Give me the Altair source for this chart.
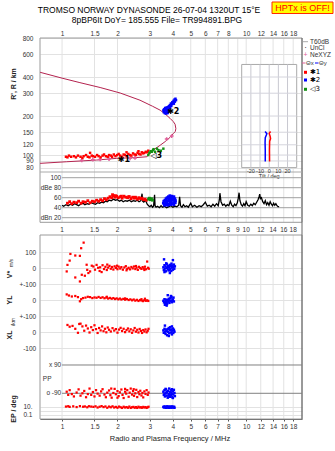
import altair as alt
import pandas as pd

FONT = "Liberation Sans"
W, H = 262, 381

# ---------------- data ----------------
F_DOMAIN = [0.759, 20.1]
FREQ_TICKS = [1, 1.5, 2, 3, 4, 5, 6, 7, 8, 10, 12, 14, 16, 18]
FREQ_TICKS_MID = [1, 1.5, 2, 3, 4, 5, 6, 7, 8, 9, 10, 12, 14, 16, 18]
FREQ_GRID = [1, 1.5, 2, 3, 4, 5, 6, 7, 8, 9, 10, 12, 14, 16, 18]

HEIGHT_TICKS = [80, 90, 100, 120, 150, 200, 300, 400, 600, 800]
DB_TICKS = [100, 80, 60, 40, 20]
DB_LABELS = ["100", "dBe 80", "60", "40", "dBn 20"]
PP_TICKS = [90, -90]
PP_LABELS = ["x 90", "o -90"]
TILT_TICKS = [-20, -10, 0, 10, 20]
INSET_TILT = [-30, 30]
INSET_HEIGHT = [80, 500]
INSET_GRID_H = [90, 100, 120, 150, 200, 300, 400]

# true-height / virtual-height profile (ordered path: freq MHz, height km)
PROFILE = [(0.76, 435), (1.0, 392), (1.25, 362), (1.61, 332), (2.07, 301), (2.65, 265),
           (3.1, 238), (3.41, 222), (3.65, 206), (3.86, 192), (4.02, 181), (4.11, 173),
           (4.15, 160), (4.12, 152), (4.03, 147), (3.86, 137), (3.63, 127), (3.41, 119),
           (3.12, 109), (2.95, 100), (2.89, 97), (2.5, 95.5), (1.98, 94.3), (1.54, 91.5),
           (1.06, 88.8), (0.76, 86.3)]
NE_XYZ = [(1.28, 91.0), (1.47, 92.0), (1.61, 92.5), (1.8, 93.2), (2.34, 94.3), (2.49, 95.0),
          (3.7, 133), (3.94, 140)]

ECHO1_H = [(1.05, 97), (1.07, 96), (1.09, 99), (1.12, 97), (1.16, 98), (1.19, 96), (1.22, 99),
           (1.26, 97), (1.29, 95), (1.31, 98), (1.35, 100), (1.38, 97), (1.41, 96), (1.42, 104),
           (1.45, 99), (1.47, 98), (1.51, 97), (1.55, 100), (1.58, 98), (1.62, 96), (1.66, 99),
           (1.69, 101), (1.73, 98), (1.77, 97), (1.8, 100), (1.84, 99), (1.87, 97), (1.91, 101),
           (1.95, 98), (1.99, 100), (2.03, 102), (2.07, 99), (2.12, 97), (2.16, 101), (2.2, 100),
           (2.24, 105), (2.25, 98), (2.29, 102), (2.34, 100), (2.38, 99), (2.43, 103), (2.48, 101),
           (2.52, 100), (2.57, 104), (2.6, 107), (2.62, 102), (2.67, 101), (2.71, 105), (2.76, 103),
           (2.8, 104), (2.85, 106), (2.9, 105), (2.94, 108)]
ECHO2_H = [(3.55, 221), (3.57, 214), (3.6, 226), (3.6, 217), (3.63, 230), (3.65, 222), (3.67, 212),
           (3.7, 228), (3.72, 219), (3.74, 234), (3.76, 224), (3.78, 216), (3.8, 238), (3.82, 229),
           (3.85, 243), (3.87, 233), (3.9, 250), (3.92, 240), (3.95, 247), (3.97, 256), (4.0, 252),
           (4.03, 262), (4.05, 249), (4.08, 268), (4.1, 258), (4.13, 272), (4.16, 265), (3.68, 209),
           (3.75, 211), (3.83, 220), (3.58, 225), (3.62, 210), (3.7, 216), (3.66, 232)]
ECHO3_H = [(2.94, 100), (2.98, 104), (3.03, 107), (3.07, 106), (3.12, 109), (3.14, 111),
           (3.2, 106), (3.28, 112), (3.34, 109), (3.44, 108), (3.55, 112)]

DB_TRACE = [(1.0, 45), (1.02, 43), (1.05, 46), (1.08, 44), (1.11, 47), (1.14, 45), (1.17, 48),
            (1.2, 46), (1.23, 44), (1.26, 47), (1.3, 49), (1.33, 46), (1.37, 48), (1.4, 47),
            (1.44, 50), (1.48, 48), (1.52, 47), (1.56, 50), (1.6, 49), (1.64, 51), (1.68, 50),
            (1.72, 53), (1.76, 52), (1.8, 55), (1.85, 54), (1.9, 57), (1.95, 55), (2.0, 56),
            (2.05, 53), (2.1, 55), (2.15, 52), (2.2, 54), (2.26, 53), (2.32, 55), (2.38, 52),
            (2.44, 54), (2.5, 53), (2.56, 55), (2.62, 52), (2.68, 54), (2.72, 68), (2.74, 53),
            (2.78, 51), (2.84, 55), (2.9, 47), (2.95, 44), (3.0, 42), (3.05, 45), (3.1, 41),
            (3.14, 43), (3.18, 66), (3.2, 44), (3.24, 41), (3.3, 43), (3.38, 40), (3.45, 44),
            (3.52, 41), (3.6, 43), (3.7, 40), (3.8, 42), (3.9, 44), (4.0, 41), (4.1, 43),
            (4.2, 42), (4.3, 45), (4.35, 62), (4.4, 44), (4.48, 41), (4.56, 46), (4.65, 42),
            (4.75, 44), (4.85, 41), (5.0, 49), (5.1, 42), (5.25, 45), (5.4, 41), (5.55, 44),
            (5.7, 42), (5.85, 46), (6.0, 51), (6.15, 43), (6.3, 45), (6.45, 42), (6.6, 47),
            (6.75, 43), (6.9, 48), (7.05, 44), (7.15, 56), (7.2, 69), (7.3, 52), (7.45, 45),
            (7.6, 47), (7.75, 43), (7.9, 46), (8.05, 44), (8.2, 53), (8.35, 45), (8.5, 42),
            (8.65, 47), (8.8, 44), (8.95, 50), (9.05, 58), (9.15, 70), (9.25, 54), (9.4, 46),
            (9.55, 43), (9.7, 48), (9.85, 44), (10.0, 52), (10.2, 45), (10.4, 43), (10.6, 47),
            (10.8, 44), (11.0, 49), (11.2, 46), (11.4, 51), (11.6, 56), (11.75, 62), (11.85, 67),
            (11.95, 58), (12.1, 60), (12.3, 52), (12.5, 48), (12.7, 54), (12.9, 46), (13.1, 50),
            (13.3, 45), (13.5, 52), (13.7, 47), (13.9, 44), (14.1, 49), (14.3, 45), (14.5, 48),
            (14.7, 44), (14.9, 42), (15.1, 42)]
ECHO1_DB = [(1.07, 49), (1.1, 52), (1.13, 48), (1.16, 51), (1.2, 50), (1.23, 53), (1.27, 49),
            (1.3, 52), (1.34, 51), (1.38, 54), (1.42, 50), (1.46, 53), (1.5, 52), (1.54, 55),
            (1.58, 53), (1.62, 56), (1.66, 54), (1.7, 58), (1.74, 56), (1.78, 59), (1.82, 62),
            (1.86, 60), (1.9, 64), (1.94, 61), (1.98, 63), (2.02, 60), (2.07, 62), (2.12, 59),
            (2.17, 63), (2.22, 61), (2.27, 60), (2.32, 62), (2.37, 58), (2.42, 61), (2.47, 59),
            (2.52, 60), (2.57, 57), (2.62, 60), (2.67, 58), (2.72, 59), (2.77, 56), (2.82, 57),
            (2.87, 55), (1.88, 66), (1.95, 64), (2.1, 63), (2.3, 62), (2.5, 61)]
ECHO2_DB = [(3.55, 49), (3.57, 53), (3.6, 47), (3.62, 55), (3.65, 51), (3.67, 58), (3.7, 49),
            (3.72, 60), (3.75, 54), (3.78, 62), (3.8, 47), (3.83, 59), (3.85, 64), (3.88, 52),
            (3.9, 61), (3.93, 56), (3.95, 63), (3.98, 48), (4.0, 60), (4.03, 57), (4.05, 62),
            (4.08, 51), (4.1, 58), (4.13, 54), (3.6, 45), (3.68, 46), (3.75, 45), (3.82, 47),
            (3.9, 46), (3.97, 48), (4.05, 46), (4.12, 50), (3.7, 53), (3.8, 55), (3.88, 57),
            (3.95, 59), (4.02, 55), (3.85, 50), (3.92, 52)]
ECHO3_DB = [(2.95, 57), (2.98, 59), (3.02, 56), (3.06, 58), (3.1, 55)]

VSTAR_1 = [(1.07, 20), (1.06, -21), (1.1, 47), (1.11, 89), (1.18, 79), (1.18, -59), (1.25, 77),
           (1.25, -84), (1.27, 125), (1.31, 160), (1.28, -42), (1.33, -48), (1.36, 21), (1.37, -11),
           (1.39, -31), (1.42, -21), (1.45, 15), (1.48, 10), (1.51, -10), (1.54, 20), (1.57, 2),
           (1.61, 5), (1.64, -25), (1.66, 18), (1.69, -6), (1.72, 8), (1.75, -12), (1.78, 3),
           (1.81, 14), (1.84, -4), (1.87, 7), (1.9, -9), (1.93, 11), (1.96, 1), (2.0, -7),
           (2.03, 9), (2.07, -3), (2.1, 6), (2.14, -10), (2.18, 4), (2.22, 12), (2.26, -5),
           (2.3, 2), (2.34, -8), (2.38, 7), (2.42, -2), (2.46, 10), (2.5, -6), (2.54, 3),
           (2.58, -11), (2.62, 8), (2.66, 0), (2.7, -5), (2.74, 6), (2.78, -3), (2.82, 9),
           (2.86, -7), (2.9, 41), (2.93, 2), (2.96, -4), (1.6, -18), (1.76, 22), (1.99, 15),
           (2.24, -14), (2.52, 13), (2.8, -12)]
VSTAR_2 = [(3.55, 5), (3.57, -12), (3.6, 18), (3.62, -3), (3.65, 10), (3.67, -20), (3.7, 25),
           (3.72, 2), (3.75, -8), (3.77, 14), (3.8, -15), (3.82, 6), (3.85, 20), (3.87, -5),
           (3.9, 12), (3.92, -18), (3.95, 3), (3.97, 16), (4.0, -10), (4.02, 8), (4.05, 22),
           (4.07, -4), (4.1, 11), (3.58, 55), (3.85, -31), (4.0, 50), (3.68, 30), (3.93, 28),
           (3.6, -25)]
YL_1 = [(1.06, 35), (1.09, 28), (1.13, 22), (1.18, 25), (1.22, 18), (1.25, -8), (1.27, 5),
        (1.3, 12), (1.34, 15), (1.38, 20), (1.42, 18), (1.46, 12), (1.5, 16), (1.54, 14),
        (1.58, 19), (1.62, 13), (1.66, 17), (1.7, 11), (1.74, 15), (1.78, 9), (1.82, 13),
        (1.86, 8), (1.9, 12), (1.94, 6), (1.98, 10), (2.02, 4), (2.06, 9), (2.1, 3), (2.15, 7),
        (2.2, 2), (2.25, 6), (2.3, 0), (2.35, 4), (2.4, -2), (2.45, 3), (2.5, -4), (2.55, 1),
        (2.6, -6), (2.65, 0), (2.7, -3), (2.75, -7), (2.8, -1), (2.85, -5), (2.9, -2),
        (2.94, -6), (2.7, 5), (2.2, 10), (1.75, 20), (2.82, 8)]
YL_2 = [(3.55, -5), (3.58, -15), (3.6, 5), (3.63, -20), (3.65, -8), (3.68, 2), (3.7, -12),
        (3.72, -25), (3.75, 0), (3.78, -10), (3.8, 8), (3.83, -18), (3.85, -3), (3.88, 12),
        (3.9, -7), (3.93, 20), (3.95, -14), (3.98, 4), (4.0, -2), (4.03, 15), (4.05, -9),
        (3.62, -30), (3.75, 30), (3.9, 25), (3.7, -35)]
XL_1 = [(1.07, 44), (1.1, 33), (1.14, 38), (1.18, 20), (1.22, -5), (1.24, 50), (1.26, 52),
        (1.29, 35), (1.32, 8), (1.35, 40), (1.38, 22), (1.41, -3), (1.44, 30), (1.47, 12),
        (1.5, 42), (1.53, 18), (1.56, -6), (1.59, 25), (1.62, 10), (1.65, 35), (1.68, 5),
        (1.71, 20), (1.74, -2), (1.77, 28), (1.8, 14), (1.84, 3), (1.88, 24), (1.92, 9),
        (1.96, 18), (2.0, -4), (2.04, 15), (2.08, 26), (2.12, 6), (2.16, 20), (2.2, -1),
        (2.24, 12), (2.28, 22), (2.32, 4), (2.36, 17), (2.4, -5), (2.44, 10), (2.48, 25),
        (2.52, 2), (2.56, 14), (2.6, -3), (2.64, 19), (2.68, 7), (2.72, -6), (2.76, 12),
        (2.8, 3), (2.84, 16), (2.88, -2), (2.92, 8), (2.95, 20)]
XL_2 = [(3.55, 10), (3.57, -5), (3.6, 20), (3.62, 2), (3.65, -12), (3.67, 15), (3.7, 5),
        (3.72, -20), (3.75, 18), (3.77, 0), (3.8, 25), (3.82, -8), (3.85, 12), (3.87, 30),
        (3.9, -3), (3.92, 16), (3.95, -15), (3.97, 8), (4.0, 22), (4.02, -6), (4.05, 14),
        (4.08, 2), (3.62, 40), (3.8, -25), (3.95, 35)]
PP_1 = [(1.06, -80), (1.08, -100), (1.1, -70), (1.13, -95), (1.16, -110), (1.2, -85), (1.23, -65),
        (1.26, -105), (1.29, -90), (1.32, -75), (1.35, -115), (1.38, -95), (1.41, -60),
        (1.44, -100), (1.47, -82), (1.5, -110), (1.53, -70), (1.56, -92), (1.6, -105), (1.63, -78),
        (1.66, -64), (1.7, -98), (1.73, -115), (1.76, -86), (1.8, -72), (1.83, -102), (1.86, -118),
        (1.9, -88), (1.93, -62), (1.96, -96), (2.0, -76), (2.03, -108), (2.06, -84), (2.1, -66),
        (2.13, -100), (2.16, -120), (2.2, -80), (2.23, -92), (2.26, -70), (2.3, -112), (2.33, -86),
        (2.36, -60), (2.4, -98), (2.43, -76), (2.46, -106), (2.5, -90), (2.53, -68), (2.56, -114),
        (2.6, -82), (2.63, -96), (2.66, -74), (2.7, -104), (2.73, -88), (2.76, -116), (2.8, -78),
        (2.84, -94), (2.88, -70), (2.92, -100), (2.95, -85), (2.0, -118), (2.2, -62),
        (2.45, -64), (1.85, -60)]
PP_2 = [(3.55, -80), (3.57, -100), (3.6, -70), (3.62, -110), (3.65, -90), (3.67, -65),
        (3.7, -105), (3.72, -85), (3.75, -118), (3.77, -75), (3.8, -95), (3.82, -60),
        (3.85, -112), (3.87, -82), (3.9, -100), (3.92, -70), (3.95, -92), (3.97, -115),
        (4.0, -78), (4.02, -98), (4.05, -68), (4.08, -88), (4.1, -108), (3.6, -95), (3.7, -80),
        (3.8, -105), (3.9, -85), (4.0, -120), (3.65, -62), (3.95, -64)]
EP_1 = [(1.05, 12), (1.08, 15), (1.1, 10), (1.15, 14), (1.2, 9), (1.25, 16), (1.3, 11),
        (1.33, 13), (1.37, 8), (1.4, 15), (1.44, 12), (1.48, 10), (1.52, 14), (1.56, 7),
        (1.6, 11), (1.64, 16), (1.68, 9), (1.72, 13), (1.76, 6), (1.8, 12), (1.84, 8),
        (1.88, 14), (1.92, 7), (1.96, 10), (2.0, 6), (2.04, 12), (2.08, 8), (2.12, 5.5),
        (2.16, 11), (2.2, 7), (2.24, 9), (2.28, 6), (2.32, 12), (2.36, 5.5), (2.4, 8),
        (2.44, 10), (2.48, 6), (2.52, 9), (2.56, 5.5), (2.6, 11), (2.64, 7), (2.68, 8),
        (2.72, 6), (2.76, 10), (2.8, 7), (2.84, 9), (2.88, 5.5), (2.92, 8), (2.95, 11)]
EP_2 = [(3.55, 10), (3.58, 7), (3.6, 13), (3.63, 8), (3.65, 11), (3.68, 6), (3.7, 9),
        (3.73, 14), (3.75, 7), (3.78, 10), (3.8, 6), (3.83, 12), (3.85, 8), (3.88, 11),
        (3.9, 6.5), (3.93, 9), (3.95, 13), (3.98, 7), (4.0, 10), (4.03, 8), (4.06, 11), (4.08, 6)]

TILT_X = [(-4.3, 89), (-4.3, 110), (-4.5, 125), (-4.3, 136), (-2.5, 146), (-4.5, 152)]
TILT_O = [(0.4, 89), (0.3, 110), (0.5, 128), (1.5, 134), (1.0, 140), (0.0, 147), (1.5, 152)]

ECHO_LABELS = [("\u27311", 2.17, 92.3), ("\u27312", 4.02, 215), ("\u25c13", 3.25, 98)]

TITLE_1 = "TROMSO NORWAY   DYNASONDE 26-07-04 1320UT 15\u00b0E"
TITLE_2 = "8pBP6It DoY= 185.555 File= TR994891.BPG"
WARNING = "HPTx is OFF!"
X_TITLE = "Radio and Plasma Frequency / MHz"

# ---------------- layout (pixels inside the plot group) ----------------
PANELS = {
    "h": dict(type="log", domain=[74, 800], range=[134, 0]),
    "db": dict(type="linear", domain=[10.8, 111.4], range=[184.3, 134]),
    "v": dict(type="linear", domain=[-100, 208], range=[246, 197]),
    "yl": dict(type="linear", domain=[-100, 100], range=[278, 246]),
    "xl": dict(type="linear", domain=[-100, 100], range=[310, 278]),
    "pp": dict(type="linear", domain=[-139, 198], range=[363, 310]),
    "ep": dict(type="log", domain=[0.0084, 316], range=[381, 363]),
}
TOP_BLOCK = (0, 184.3)
LOW_BLOCK = (197, 381)

RED, BLUE, GREEN = "#ff0000", "#0000ff", "#129012"
PROFILE_COLOR = "#b4234f"
PINK = "#e0609a"
GRID = "#e2e2e2"
LABEL = "#333333"


def X(field="f", axis=None):
    return alt.X(f"{field}:Q", scale=alt.Scale(type="log", domain=F_DOMAIN, range=[0, W], nice=False), axis=axis)


def Y(field, panel, axis=None):
    p = PANELS[panel]
    kw = dict(type=p["type"], domain=p["domain"], range=p["range"], nice=False)
    if p["type"] == "linear":
        kw["zero"] = False
    return alt.Y(f"{field}:Q", scale=alt.Scale(**kw), axis=axis)


def TX(field="t"):
    return alt.X(f"{field}:Q", scale=alt.Scale(domain=INSET_TILT, range=[201.7, 256.7], nice=False, zero=False), axis=None)


def yaxis(values, pad, label_expr=None, fmt=None):
    kw = dict(orient="left", values=values, grid=True, gridColor=GRID, gridWidth=1, ticks=False, tickSize=0,
              domain=False, labelFontSize=6.5, labelColor=LABEL, labelPadding=pad, labelFont=FONT, title=None,
              labelOverlap=False, labelFlush=False, labelBound=False)
    if label_expr:
        kw["labelExpr"] = label_expr
    if fmt:
        kw["format"] = fmt
    return alt.Axis(**kw)


def pts(pairs, panel, color, size=5, axis=None):
    d = pd.DataFrame(pairs, columns=["f", "v"])
    return alt.Chart(d).mark_square(size=size, color=color, opacity=1).encode(x=X(), y=Y("v", panel, axis))


def ptext(txt, x, y, size=6.5, color=LABEL, align="left", baseline="middle", angle=0, weight="normal"):
    return alt.Chart(pd.DataFrame({"t": [txt]})).mark_text(
        align=align, baseline=baseline, fontSize=size, color=color, angle=angle, fontWeight=weight, font=FONT
    ).encode(text="t:N", x=alt.value(x), y=alt.value(y))


def prule(x1, x2, y1, y2, color, width=1):
    return alt.Chart(pd.DataFrame({"a": [0]})).mark_rule(color=color, strokeWidth=width).encode(
        x=alt.value(x1), x2=alt.value(x2), y=alt.value(y1), y2=alt.value(y2))


layers = []

# vertical frequency grid + top/bottom frequency axes
top_axis = alt.Axis(orient="top", values=FREQ_TICKS, format="~g", grid=False, ticks=False, tickSize=0, domain=False,
                    labelFontSize=6.5, labelColor=LABEL, labelPadding=1.5, labelFont=FONT, title=None,
                    labelOverlap=False, labelFlush=False, labelBound=False)
bot_axis = alt.Axis(orient="bottom", values=FREQ_TICKS, format="~g", grid=False, ticks=True, tickSize=2,
                    tickColor="#555", domain=True, domainColor="#555", labelFontSize=6.5, labelColor=LABEL,
                    labelPadding=2.5, labelFont=FONT, title=None, labelOverlap=False, labelFlush=False,
                    labelBound=False)
gdf = pd.DataFrame({"f": FREQ_GRID})
layers.append(alt.Chart(gdf).mark_rule(color=GRID).encode(
    x=X("f", top_axis), y=alt.value(TOP_BLOCK[0]), y2=alt.value(TOP_BLOCK[1])))
layers.append(alt.Chart(gdf).mark_rule(color=GRID).encode(
    x=X("f", bot_axis), y=alt.value(LOW_BLOCK[0]), y2=alt.value(LOW_BLOCK[1])))

# middle frequency labels
mid = pd.DataFrame({"f": FREQ_TICKS_MID, "lab": [f"{v:g}" for v in FREQ_TICKS_MID]})
layers.append(alt.Chart(mid).mark_text(fontSize=6.5, color=LABEL, font=FONT, baseline="middle").encode(
    x=X(), y=alt.value(192), text="lab:N"))

# block frames
for (y1, y2) in (TOP_BLOCK, LOW_BLOCK):
    layers.append(alt.Chart(pd.DataFrame({"a": [0]})).mark_rect(fillOpacity=0, stroke="#9a9a9a", strokeWidth=1).encode(
        x=alt.value(0), x2=alt.value(W), y=alt.value(y1), y2=alt.value(y2)))
layers.append(prule(W, W, 0, H, "#666"))

# separator between height panel and amplitude panel
layers.append(alt.Chart(pd.DataFrame({"f0": [F_DOMAIN[0]], "f1": [F_DOMAIN[1]], "h": [PANELS["h"]["domain"][0]]}))
              .mark_rule(color="#aaa").encode(x=X("f0"), x2="f1:Q", y=Y("h", "h")))

# ---------- height panel ----------
prof = pd.DataFrame(PROFILE, columns=["f", "h"]).reset_index()
layers.append(alt.Chart(prof).mark_line(color=PROFILE_COLOR, strokeWidth=1).encode(
    x=X(), y=Y("h", "h", yaxis(HEIGHT_TICKS, 7, fmt="d")), order="index:Q"))
layers.append(alt.Chart(pd.DataFrame(NE_XYZ, columns=["f", "h"])).mark_point(
    shape="cross", filled=True, size=14, color=PINK, opacity=1).encode(x=X(), y=Y("h", "h")))
layers.append(pts(ECHO1_H, "h", RED, 6))
layers.append(pts(ECHO3_H, "h", GREEN, 6))
layers.append(pts(ECHO2_H, "h", BLUE, 6))
layers.append(alt.Chart(pd.DataFrame(ECHO_LABELS, columns=["lab", "f", "h"])).mark_text(
    fontSize=8, color="black", font="DejaVu Sans", fontWeight="bold").encode(x=X(), y=Y("h", "h"), text="lab:N"))

# tilt inset
box = pd.DataFrame({"t0": [INSET_TILT[0]], "t1": [INSET_TILT[1]], "h0": [INSET_HEIGHT[0]], "h1": [INSET_HEIGHT[1]]})
layers.append(alt.Chart(box).mark_rect(fill="white", stroke="#aaa", strokeWidth=1).encode(
    x=TX("t0"), x2="t1:Q", y=Y("h0", "h"), y2="h1:Q"))
vg = pd.DataFrame({"t": TILT_TICKS, "h0": INSET_HEIGHT[0], "h1": INSET_HEIGHT[1]})
layers.append(alt.Chart(vg).mark_rule(color="#c8c8d0").encode(x=TX("t"), y=Y("h0", "h"), y2="h1:Q"))
hg = pd.DataFrame({"h": INSET_GRID_H, "t0": INSET_TILT[0], "t1": INSET_TILT[1]})
layers.append(alt.Chart(hg).mark_rule(color="#d4d4dc").encode(x=TX("t0"), x2="t1:Q", y=Y("h", "h")))
layers.append(alt.Chart(pd.DataFrame(TILT_X, columns=["t", "h"]).reset_index()).mark_line(
    color=BLUE, strokeWidth=1.5).encode(x=TX("t"), y=Y("h", "h"), order="index:Q"))
layers.append(alt.Chart(pd.DataFrame(TILT_O, columns=["t", "h"]).reset_index()).mark_line(
    color=RED, strokeWidth=1.5).encode(x=TX("t"), y=Y("h", "h"), order="index:Q"))
tl = pd.DataFrame({"t": TILT_TICKS, "lab": [str(v) for v in TILT_TICKS], "h": 75.5})
layers.append(alt.Chart(tl).mark_text(fontSize=5.5, color=LABEL, font=FONT, baseline="middle").encode(
    x=TX("t"), y=Y("h", "h"), text="lab:N"))
layers.append(alt.Chart(pd.DataFrame({"t": [0], "h": [69], "lab": ["Tilt / deg"]})).mark_text(
    fontSize=5.5, color=LABEL, font=FONT, baseline="middle").encode(x=TX("t"), y=Y("h", "h"), text="lab:N"))

# ---------- amplitude panel ----------
dbr = pd.DataFrame({"v": DB_TICKS, "f0": 1.0, "f1": F_DOMAIN[1], "fl": 0.99, "lab": DB_LABELS})
layers.append(alt.Chart(dbr).mark_rule(color="#a0a0a0").encode(x=X("f0"), x2="f1:Q", y=Y("v", "db")))
layers.append(alt.Chart(dbr).mark_text(align="right", baseline="middle", fontSize=6.5, color=LABEL, font=FONT).encode(
    x=X("fl"), y=Y("v", "db"), text="lab:N"))
layers.append(alt.Chart(pd.DataFrame(DB_TRACE, columns=["f", "v"]).reset_index()).mark_line(
    color="black", strokeWidth=1.3).encode(x=X(), y=Y("v", "db"), order="index:Q"))
layers.append(pts(ECHO1_DB, "db", RED, 8))
layers.append(pts(ECHO3_DB, "db", GREEN, 8))
layers.append(pts(ECHO2_DB, "db", BLUE, 8))

# ---------- V*, YL, XL panels ----------
layers.append(pts(VSTAR_1, "v", RED, 5, yaxis([100, 0, -100], 4.3, "datum.value == -100 ? '+-100' : datum.label")))
layers.append(pts(VSTAR_2, "v", BLUE, 6))
layers.append(pts(YL_1, "yl", RED, 5, yaxis([0, -100], 4.3, "datum.value == -100 ? '+-100' : '0'")))
layers.append(pts(YL_2, "yl", BLUE, 6))
layers.append(pts(XL_1, "xl", RED, 5, yaxis([0, -100], 4.3, "datum.value == -100 ? '-100' : '0'")))
layers.append(pts(XL_2, "xl", BLUE, 6))

# ---------- polarisation / EP panels ----------
ppr = pd.DataFrame({"v": PP_TICKS, "f0": 1.0, "f1": F_DOMAIN[1], "fl": 0.99, "lab": PP_LABELS})
layers.append(alt.Chart(ppr).mark_rule(color="#808080").encode(x=X("f0"), x2="f1:Q", y=Y("v", "pp")))
layers.append(alt.Chart(ppr).mark_text(align="right", baseline="middle", fontSize=6.5, color=LABEL, font=FONT).encode(
    x=X("fl"), y=Y("v", "pp"), text="lab:N"))
layers.append(alt.Chart(pd.DataFrame({"f": [0.83], "v": [0], "lab": ["PP"]})).mark_text(
    baseline="middle", fontSize=6.5, color=LABEL, font=FONT).encode(x=X(), y=Y("v", "pp"), text="lab:N"))
layers.append(pts(PP_1, "pp", RED, 5))
layers.append(pts(PP_2, "pp", BLUE, 6))
layers.append(pts(EP_1, "ep", RED, 5, yaxis([10, 1, 0.1], 8,
                                             "datum.value >= 10 ? '10.' : (datum.value >= 1 ? '' : '0.1')")))
layers.append(pts(EP_2, "ep", BLUE, 6))

# ---------- axis titles ----------
layers.append(ptext("R', R / km", -26.5, 46, 7, "#222", "center", "middle", 270, "bold"))
layers.append(ptext("V*", -30.5, 236.5, 7, "#222", "center", "middle", 270, "bold"))
layers.append(ptext("m/s", -29.5, 225, 5, "#222", "center", "middle", 270))
layers.append(ptext("YL", -30.5, 262, 7, "#222", "center", "middle", 270, "bold"))
layers.append(ptext("/km", -27.5, 284, 5, "#222", "center", "middle", 270))
layers.append(ptext("XL", -30.5, 297, 7, "#222", "center", "middle", 270, "bold"))
layers.append(ptext("EP / deg", -25.8, 371, 7, "#222", "center", "middle", 270, "bold"))
layers.append(ptext(X_TITLE, 130, 401, 7.5, "#222", "center", "middle"))

# ---------- titles ----------
layers.append(ptext(TITLE_1, 109, -25, 8.5, "black", "center", "alphabetic"))
layers.append(ptext(TITLE_2, 117, -15.5, 8.5, "black", "center", "alphabetic"))
layers.append(alt.Chart(pd.DataFrame({"a": [0]})).mark_rect(fill="#ffff00", stroke="#ff2a00", strokeWidth=1).encode(
    x=alt.value(232), x2=alt.value(293), y=alt.value(-36), y2=alt.value(-24.5)))
layers.append(ptext(WARNING, 262.5, -27, 9, "#ff0000", "center", "alphabetic"))

# ---------- legend ----------
layers.append(prule(263, 268, 3.7, 3.7, "#aaa"))
layers.append(ptext("T60dB", 270, 3.7))
layers.append(ptext("\u00b7", 265.5, 10.3, 8, "black", "center"))
layers.append(ptext("UnCl", 270, 10.3))
layers.append(ptext("+", 265.5, 17, 7, PINK, "center"))
layers.append(ptext("NeXYZ", 270, 17))
layers.append(prule(262, 265.5, 25, 25, PINK))
layers.append(ptext("\u0398x", 266, 25, 6))
layers.append(prule(275, 278.5, 25, 25, BLUE))
layers.append(ptext("\u0398y", 279, 25, 6))
for (lab, col, yy) in (("\u27311", RED, 34.3), ("\u27312", BLUE, 42), ("\u25c13", GREEN, 51.3)):
    layers.append(alt.Chart(pd.DataFrame({"a": [0]})).mark_square(size=9, color=col, opacity=1).encode(
        x=alt.value(265.5), y=alt.value(yy)))
    layers.append(alt.Chart(pd.DataFrame({"t": [lab]})).mark_text(
        align="left", baseline="middle", fontSize=7, color="black", font="DejaVu Sans").encode(
        text="t:N", x=alt.value(270), y=alt.value(yy)))

chart = alt.layer(*layers).resolve_scale(x="independent", y="independent").properties(
    width=W, height=H, autosize=alt.AutoSizeParams(type="none"),
    padding={"left": 40, "top": 38, "right": 33, "bottom": 32},
).configure_view(stroke=None).configure_axis(labelFont=FONT)

chart.save("out.html", embed_options={"renderer": "svg", "actions": False})
